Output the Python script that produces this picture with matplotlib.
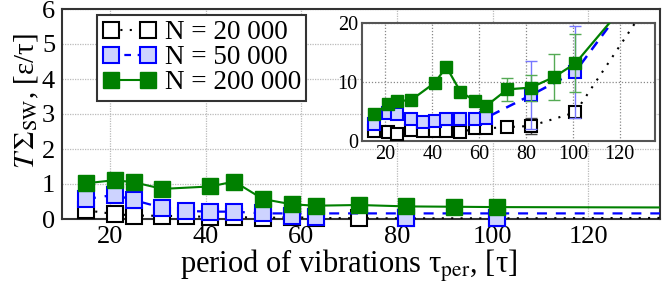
import matplotlib
matplotlib.use("Agg")
import matplotlib.pyplot as plt

plt.rcParams['font.family'] = ['Liberation Serif', 'DejaVu Serif']
plt.rcParams['mathtext.fontset'] = 'stix'

# periods of vibration for each system size
tau_20k = [15, 21, 25, 31, 36, 41, 46, 52, 58, 63, 72, 82, 101]
tau_50k = [15, 21, 25, 31, 36, 41, 46, 52, 58, 63, 82, 101]
tau_200k = [15, 21, 25, 31, 41, 46, 52, 58, 63, 72, 82, 92, 101]

# main panel: T*Sigma_SW, [eps/tau]
main_20k = [0.25, 0.14, 0.10, 0.09, 0.08, 0.06, 0.06, 0.03, 0.05, 0.03, 0.02, 0.02, 0.02]
main_50k = [0.57, 0.69, 0.54, 0.32, 0.23, 0.21, 0.21, 0.16, 0.10, 0.06, 0.04, 0.04]
main_200k = [1.02, 1.11, 1.05, 0.86, 0.93, 1.07, 0.57, 0.42, 0.38, 0.40, 0.36, 0.35, 0.34]
# curves drawn through the main panel (extend to the right edge)
line_50k = [0.57, 0.69, 0.54, 0.32, 0.23, 0.21, 0.21, 0.16, 0.16, 0.16, 0.16, 0.16]
tail_tau = 135
tail_main = {"20k": 0.03, "50k": 0.16, "200k": 0.33}

# inset panel
ins_20k = [1.6, 1.4, 1.1, 1.8, 1.7, 1.6, 1.7, 1.4, 2.1, 2.1, 2.3, 2.5, 4.8]
ins_50k = [2.9, 4.7, 4.6, 3.7, 3.2, 3.4, 3.7, 3.7, 3.7, 3.9, 7.7, 11.7]
ins_200k = [4.5, 6.2, 6.7, 6.9, 9.8, 12.5, 8.3, 6.8, 5.9, 8.7, 9.0, 10.8, 13.1]
err_20k = [0, 0, 0, 0, 0, 0, 0, 0, 0, 0, 0.3, 1.3, 0.8]
err_50k = [0, 0, 0, 0, 0, 0, 0.4, 0.6, 0.4, 0.4, 5.8, 7.8]
err_200k = [0, 0, 0, 0, 0.6, 0, 0, 0.5, 0, 1.9, 2.2, 3.85, 4.9]
tail_ins = {"20k": 25.0, "50k": 29.9, "200k": 29.1}

labels = ["N = 20 000", "N = 50 000", "N = 200 000"]

GREEN = '#008000'
BLUE = '#0000ff'
LIGHT_BLUE = '#cdd3ff'

fig = plt.figure(figsize=(6.64, 2.92), dpi=100)
ax = fig.add_axes([62 / 664, 73 / 292, 598 / 664, 210 / 292])

# black, dotted
ax.plot(tau_20k + [tail_tau], main_20k + [tail_main["20k"]], color='k', lw=1.5,
        dashes=(1, 3.5), zorder=3)
ax.plot(tau_20k, main_20k, ls='none', marker='s', ms=11, mfc='white', mec='k',
        mew=1.5, clip_on=False, zorder=4)
# blue, dashed
ax.plot(tau_50k + [tail_tau], line_50k + [tail_main["50k"]], color=BLUE, lw=1.6,
        dashes=(4.5, 4), zorder=5)
ax.plot(tau_50k, main_50k, ls='none', marker='s', ms=11, mfc=LIGHT_BLUE, mec=BLUE,
        mew=1.5, clip_on=False, zorder=6)
# green, solid
ax.plot(tau_200k + [tail_tau], main_200k + [tail_main["200k"]], color=GREEN, lw=1.5,
        zorder=7)
ax.plot(tau_200k, main_200k, ls='none', marker='s', ms=12, mfc=GREEN, mec=GREEN,
        clip_on=False, zorder=8)

# legend handles (marker - line - marker)
h1, = ax.plot([], [], color='k', lw=1.5, dashes=(1, 3.5), marker='s', ms=11,
              mfc='white', mec='k', mew=1.5)
h2, = ax.plot([], [], color=BLUE, lw=1.6, dashes=(3, 3), marker='s', ms=11,
              mfc=LIGHT_BLUE, mec=BLUE, mew=1.5)
h3, = ax.plot([], [], color=GREEN, lw=1.5, marker='s', ms=12, mfc=GREEN, mec=GREEN)
leg = ax.legend([h1, h2, h3], labels, loc='upper left', bbox_to_anchor=(0.0585, 0.972),
                borderaxespad=0, numpoints=2, fontsize=19.5, handlelength=2.0,
                handletextpad=0.3, labelspacing=0.0, borderpad=0.2, fancybox=False,
                framealpha=1)
leg.get_frame().set_edgecolor('#333333')
leg.get_frame().set_linewidth(1.5)
leg.set_zorder(20)

ax.set_xlim(10, 135)
ax.set_ylim(0, 6)
ax.set_xticks([20, 40, 60, 80, 100, 120])
ax.set_yticks([0, 1, 2, 3, 4, 5, 6])
ax.grid(True, color='#bbbbbb', ls=(0, (1, 1)), lw=0.9)
ax.tick_params(labelsize=19, direction='in', length=0, pad=5)
for s in ax.spines.values():
    s.set_color('#333333')
    s.set_linewidth(1.5)

ax.set_xlabel("period of vibrations τ$_{\\rm per}$, [τ]", fontsize=22)
ax.set_ylabel("$T\\,\\Sigma_{\\rm SW}$, [ε/τ]", fontsize=21)
ax.xaxis.set_label_coords(0.48, -0.135)
ax.yaxis.set_label_coords(-0.035, 0.56)

# inset
axi = fig.add_axes([362 / 664, (292 - 140.7) / 292, 293 / 664, 118 / 292])
axi.set_zorder(10)
axi.errorbar(tau_20k + [tail_tau], ins_20k + [tail_ins["20k"]],
             yerr=err_20k + [0], color='k', lw=1.5, dashes=(1, 3.5),
             ecolor='#444444', elinewidth=1, capsize=4, zorder=3)
axi.plot(tau_20k, ins_20k, ls='none', marker='s', ms=8, mfc='white', mec='k',
         mew=1.5, zorder=4)
axi.errorbar(tau_50k + [tail_tau], ins_50k + [tail_ins["50k"]],
             yerr=err_50k + [0], color=BLUE, lw=1.8, dashes=(4, 3),
             ecolor='#7777ff', elinewidth=1, capsize=4, zorder=5)
axi.plot(tau_50k, ins_50k, ls='none', marker='s', ms=8, mfc=LIGHT_BLUE, mec=BLUE,
         mew=1.5, zorder=6)
axi.errorbar(tau_200k + [tail_tau], ins_200k + [tail_ins["200k"]],
             yerr=err_200k + [0], color=GREEN, lw=1.6,
             ecolor='#55aa55', elinewidth=1, capsize=4, zorder=7)
axi.plot(tau_200k, ins_200k, ls='none', marker='s', ms=9, mfc=GREEN, mec=GREEN,
         zorder=8)
axi.set_xlim(10, 135)
axi.set_ylim(0, 20)
axi.set_xticks([20, 40, 60, 80, 100, 120])
axi.set_yticks([0, 10, 20])
axi.grid(True, color='#888888', ls=(0, (1, 1.5)), lw=0.9)
axi.tick_params(labelsize=14.5, direction='in', length=0, pad=3)
for s in axi.spines.values():
    s.set_color('#555555')
    s.set_linewidth(1.5)

fig.savefig("out.png", dpi=100)
